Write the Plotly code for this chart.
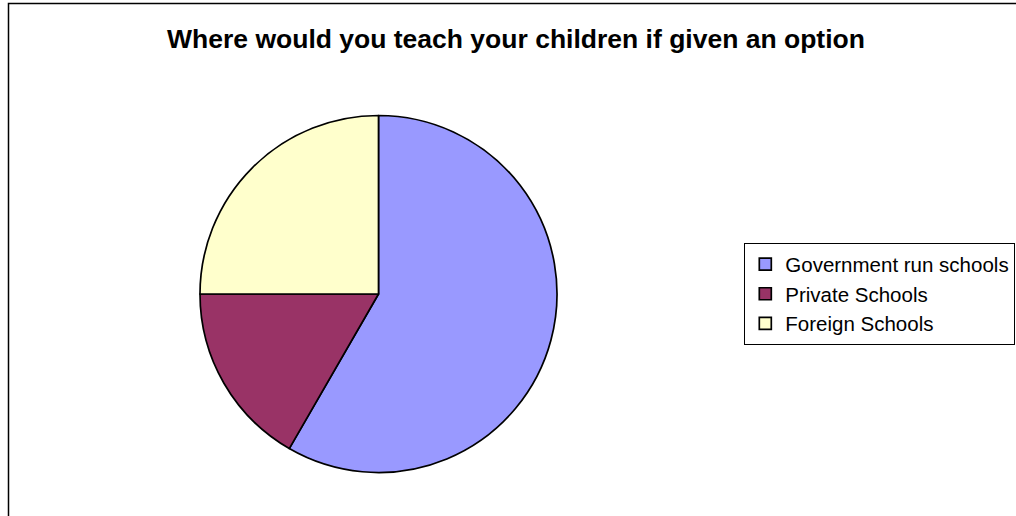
import plotly.graph_objects as go

W, H = 1016, 516

categories = ["Government run schools", "Private Schools", "Foreign Schools"]
values = [35, 10, 15]
colors = ["#9999FF", "#993366", "#FFFFCC"]

title_text = "Where would you teach your children if given an option"

# pie placement (pixels)
cx, cy, r = 378.5, 294, 178.5

fig = go.Figure(
    go.Pie(
        labels=categories,
        values=values,
        sort=False,
        direction="clockwise",
        rotation=0,
        textinfo="none",
        marker=dict(colors=colors, line=dict(color="black", width=1.7)),
        domain=dict(x=[(cx - r) / W, (cx + r) / W],
                    y=[1 - (cy + r) / H, 1 - (cy - r) / H]),
        showlegend=True,
    )
)

fig.update_layout(
    width=W,
    height=H,
    margin=dict(l=0, r=0, t=0, b=0, autoexpand=False),
    paper_bgcolor="white",
    plot_bgcolor="white",
    font=dict(family="Arial, Liberation Sans, sans-serif", color="black"),
    title=dict(
        text="<b>" + title_text + "</b>",
        x=516 / W,
        xanchor="center",
        y=1 - 39 / H,
        yanchor="middle",
        xref="paper",
        yref="paper",
        font=dict(size=26.5, color="black", family="Arial, Liberation Sans, sans-serif"),
    ),
    legend=dict(
        x=744 / W,
        xanchor="left",
        y=1 - 243 / H,
        yanchor="top",
        bordercolor="black",
        borderwidth=1.3,
        bgcolor="white",
        font=dict(size=20.5, color="black"),
        itemclick=False,
    ),
    shapes=[
        dict(type="rect", xref="paper", yref="paper",
             x0=8.5 / W, x1=1.02, y0=-0.02, y1=1 - 3.5 / H,
             line=dict(color="black", width=1.5), layer="below")
    ],
)

fig.write_html("out.html", config={"displayModeBar": False},
               post_script="document.body.style.margin='0';")
